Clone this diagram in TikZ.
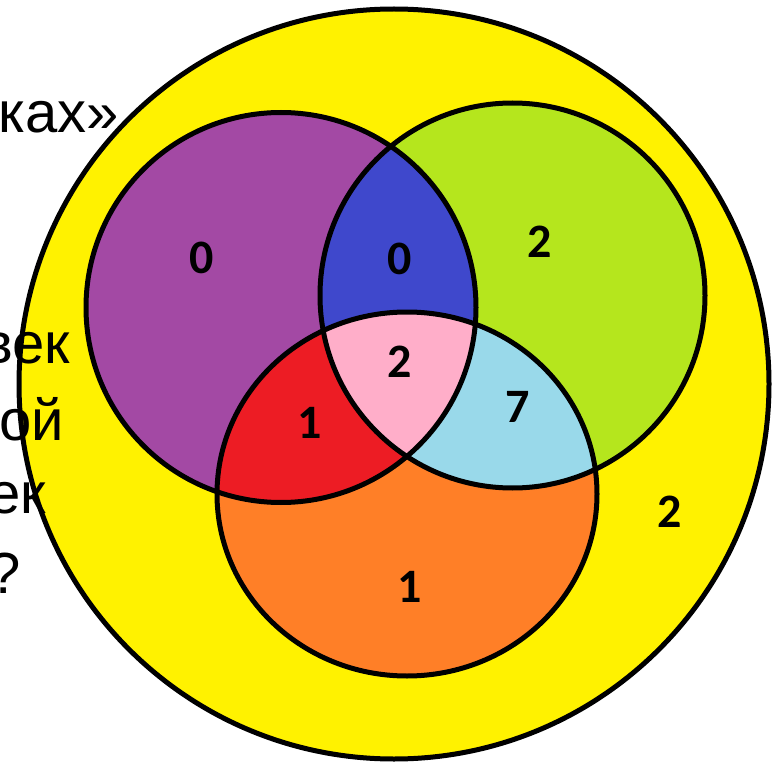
\documentclass[tikz,border=0pt]{standalone}
\usepackage{fontspec}
\setmainfont{Liberation Sans}
\newfontfamily\numfont{Carlito}
\definecolor{cyellow}{HTML}{FFF200}
\definecolor{cpurple}{HTML}{A349A4}
\definecolor{cgreen}{HTML}{B5E61D}
\definecolor{corange}{HTML}{FF7F27}
\definecolor{cblue}{HTML}{3F48CC}
\definecolor{cred}{HTML}{ED1C24}
\definecolor{cpink}{HTML}{FFAEC9}
\definecolor{cltblue}{HTML}{99D9EA}
\tikzset{
  lbl/.style={font=\numfont\bfseries\fontsize{48}{48}\selectfont, text=black, inner sep=0pt},
  bgtext/.style={font=\fontsize{58}{58}\selectfont, text=black, anchor=base east, inner sep=0pt},
  outline/.style={draw=black, line width=5pt}
}
\begin{document}
\begin{tikzpicture}[x=1pt,y=-1pt]
\fill[white] (0,0) rectangle (782,762);
\useasboundingbox (0,0) rectangle (782,762);
% universe
\fill[cyellow] (394,384) circle [radius=375];
% sets
\fill[cpurple] (281,307.5) circle [radius=195];
\fill[cgreen] (512.5,295.5) circle [radius=192.5];
\fill[corange] (407,494) ellipse [x radius=190, y radius=182];
\begin{scope}
  \clip (281,307.5) circle [radius=195];
  \fill[cblue] (512.5,295.5) circle [radius=192.5];
\end{scope}
\begin{scope}
  \clip (281,307.5) circle [radius=195];
  \fill[cred] (407,494) ellipse [x radius=190, y radius=182];
\end{scope}
\begin{scope}
  \clip (512.5,295.5) circle [radius=192.5];
  \fill[cltblue] (407,494) ellipse [x radius=190, y radius=182];
\end{scope}
\begin{scope}
  \clip (281,307.5) circle [radius=195];
  \clip (512.5,295.5) circle [radius=192.5];
  \fill[cpink] (407,494) ellipse [x radius=190, y radius=182];
\end{scope}
% outlines
\draw[outline] (394,384) circle [radius=375];
\draw[outline] (281,307.5) circle [radius=195];
\draw[outline] (512.5,295.5) circle [radius=192.5];
\draw[outline] (407,494) ellipse [x radius=190, y radius=182];
% numbers
\node[lbl] (a) at (202,258) {0};
\node[lbl] (ab) at (400,259) {0};
\node[lbl] (b) at (540,242) {2};
\node[lbl] (abc) at (400,362) {2};
\node[lbl] (ac) at (310,423) {1};
\node[lbl] (bc) at (518,407) {7};
\node[lbl] (c) at (410,587) {1};
\node[lbl] (u) at (670,512) {2};
% partly hidden slide text
\node[bgtext] (t1) at (119,133) {ках»};
\node[bgtext] (t2) at (70,363) {век};
\node[bgtext] (t3) at (64,440) {ой};
\node[bgtext] (t4) at (46,513) {ек};
\node[bgtext] (t5) at (21,593) {?};
\end{tikzpicture}
\end{document}
